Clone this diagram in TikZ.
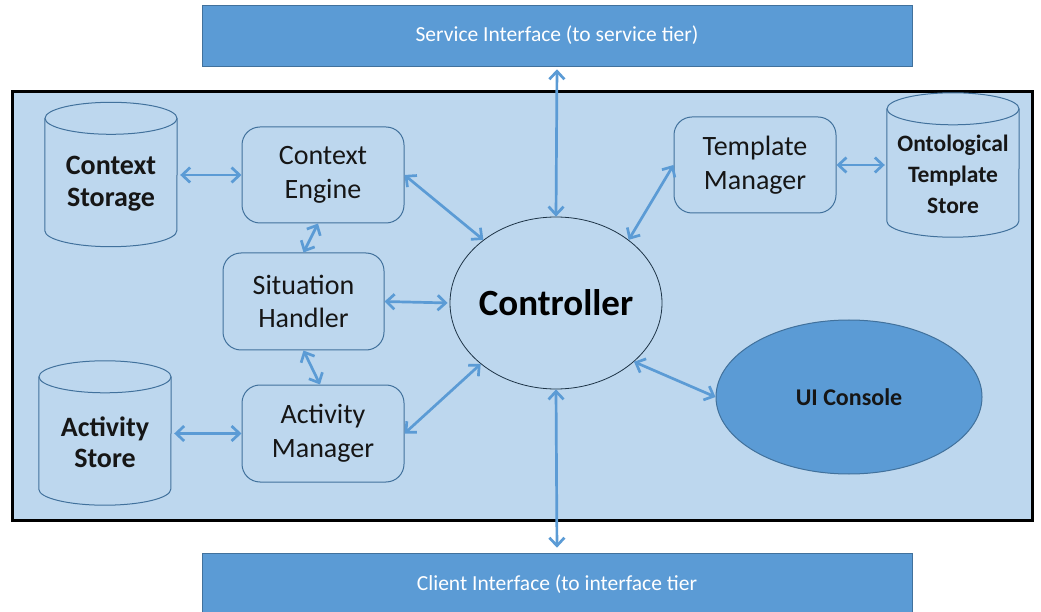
\documentclass[tikz,border=0pt]{standalone}
\usepackage{fontspec}
\setmainfont{Carlito}
\usetikzlibrary{arrows.meta,shapes.geometric}
\definecolor{panel}{HTML}{BDD7EE}
\definecolor{accent}{HTML}{5B9BD5}
\definecolor{edgeblue}{HTML}{41719C}
\definecolor{ink}{HTML}{161616}

% cylinder outline around a rectangular store node: #1 node, #2 half width, #3 cap radius
\newcommand\storeoutline[3]{%
  \draw[edgeblue, line width=1pt]
    ([yshift=-#3pt]#1.north west) -- ([yshift=#3pt]#1.south west)
    arc[start angle=180, end angle=360, x radius=#2, y radius=#3]
    -- ([yshift=-#3pt]#1.north east);
  \draw[edgeblue, line width=1pt] ([yshift=-#3pt]#1.north) ellipse[x radius=#2, y radius=#3];
}

\begin{document}
\begin{tikzpicture}[x=1pt, y=1pt,
  comp/.style={draw=edgeblue, line width=1pt, rounded corners=18pt,
    minimum width=162pt, minimum height=96pt, inner sep=0pt, align=center,
    text=ink, font=\fontsize{28}{33.6}\selectfont},
  store/.style={rectangle, minimum width=132pt, minimum height=144pt, inner sep=0pt},
  storetext/.style={text=ink, align=center, inner sep=0pt, yshift=-9pt},
  iface/.style={fill=accent, draw=edgeblue, line width=0.6pt,
    minimum width=710pt, minimum height=61pt, inner sep=0pt,
    text=white, font=\fontsize{21.5}{24}\selectfont},
  link/.style={draw=accent, line width=2.7pt,
    {Straight Barb[length=8pt,width=15pt]}-{Straight Barb[length=8pt,width=15pt]}},
]
\useasboundingbox (0,0) rectangle (1041,611);

% container of the middle tier
\draw[fill=panel, line width=3pt] (12,91) rectangle (1032,519);

% interfaces above and below
\node[iface] (svc) at (557,575.5) {Service Interface (to service tier)};
\node[iface, minimum height=62pt] (cli) at (557,27) {Client Interface (to interface tier};

% stores
\node[store, label={[storetext, font=\bfseries\fontsize{28}{32}\selectfont]center:{Context\\Storage}}] (cs) at (111,436.5) {};
\storeoutline{cs}{66}{16}
\node[store, label={[storetext, font=\bfseries\fontsize{28}{31}\selectfont]center:{Activity\\Store}}] (as) at (105,178) {};
\storeoutline{as}{66}{16}
\node[store, label={[storetext, font=\bfseries\fontsize{23.5}{31}\selectfont]center:{Ontological\\Template\\Store}}] (ots) at (953,446) {};
\storeoutline{ots}{66}{16}

% components
\node[comp] (ce) at (323,436) {Context\\Engine};
\node[comp, minimum width=161pt, minimum height=97pt] (sh) at (303.5,309.5) {Situation\\Handler};
\node[comp, minimum height=97pt] (am) at (323,177.5) {Activity\\Manager};
\node[comp] (tm) at (755,446) {Template\\Manager};

\node[ellipse, draw=black!55!edgeblue, line width=0.8pt, minimum width=212pt, minimum height=172pt,
  inner sep=0pt,
  label={[text=black, font=\bfseries\fontsize{37}{40}\selectfont]center:Controller}] (ctrl) at (556,308) {};
\node[ellipse, draw=edgeblue, fill=accent, line width=1pt, minimum width=266pt, minimum height=154pt,
  inner sep=0pt, text=ink, font=\bfseries\fontsize{24}{28}\selectfont] (ui) at (849,214) {UI Console};

% connections
\draw[link, shorten <=3pt] (ce.west -| cs.east) -- (ce.west);
\draw[link, shorten <=3pt] (am.west -| as.east) -- (am.west);
\draw[link, shorten >=2pt] (tm.east) -- (tm.east -| ots.west);
\draw[link] ([xshift=-5pt]ce.south) -- (sh.north);
\draw[link] (sh.south) -- ([xshift=-3pt]am.north);
\draw[link, shorten >=2pt] (sh.east) -- (ctrl.west);
\draw[link] (ce.east) -- (ctrl.139);
\draw[link] (am.east) -- (ctrl.219);
\draw[link] (tm.west) -- (ctrl.41);
\draw[link] (ctrl.323) -- (ui.west);
\draw[link, shorten >=3pt] (ctrl.north) -- (svc.south);
\draw[link, shorten >=5pt] (ctrl.south) -- (cli.north);
\end{tikzpicture}
\end{document}
